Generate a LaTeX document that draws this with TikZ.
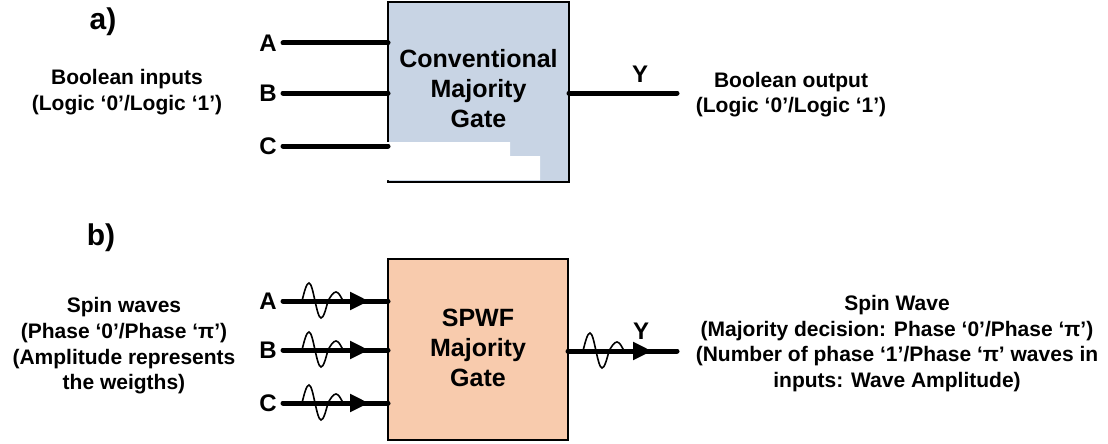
\documentclass[tikz,border=0pt]{standalone}
\usepackage{fontspec}
\setmainfont{Liberation Sans}
\usepackage{tikz}
\usetikzlibrary{arrows.meta, positioning}
\definecolor{colorConv}{RGB}{200,212,228}
\definecolor{colorSpw}{RGB}{248,203,173}
\tikzset{
  gate/.style={draw, line width=2.5pt, outer sep=0pt, minimum width=180pt, minimum height=180pt},
  gatetext/.style={align=center, font=\fontsize{25}{30}\selectfont\bfseries},
  pinlabel/.style={inner sep=0pt, font=\fontsize{24}{24}\selectfont\bfseries},
  note/.style={align=center, inner sep=0pt, font=\fontsize{21}{25.7}\selectfont\bfseries},
  caption/.style={anchor=base, inner sep=0pt, font=\fontsize{30}{30}\selectfont\bfseries},
  wire/.style={line width=5pt, line cap=round},
  tip/.style={line width=5pt, -{Triangle[length=19pt,width=17pt]}},
  spinwave/.pic={\draw[line width=1.6pt] (0,0) sin (7,-18) cos (13,0) sin (19,17) cos (26,0) sin (34,-9) cos (41,0);}
}

\begin{document}
\begin{tikzpicture}[x=1pt, y=-1pt]
\useasboundingbox (0,0) rectangle (1108,444);
% a) conventional gate
\node[caption] (capa) at (103,30) {a)};
\node[gate, fill=colorConv, minimum width=181pt] (cgate) at (478.5,92) {};
\fill[white] (386,142) -- (510,142) -- (510,156) -- (540,156) -- (540,180) -- (386,180) -- cycle;
\node[gatetext, yshift=3pt] (ctext) at (cgate) {Conventional\\Majority\\Gate};
\coordinate (cA) at (283,43);
\coordinate (cB) at (283,93);
\coordinate (cC) at (283,146);
\coordinate (cY) at (677,93);
\node[pinlabel, left=6pt of cA] (lcA) {A};
\node[pinlabel, left=6pt of cB] (lcB) {B};
\node[pinlabel, left=6pt of cC] (lcC) {C};
\draw[wire] (cA) -- (cgate.west |- cA);
\draw[wire] (cB) -- (cgate.west |- cB);
\draw[wire] (cC) -- (cgate.west |- cC);
\draw[wire] (cgate.east |- cY) -- (cY);
\node[pinlabel] (lcY) at (640,74) {Y};
\node[note] (cin) at (127,92) {Boolean inputs\\(Logic ‘0’/Logic ‘1’)};
\node[note] (cout) at (791,94.5) {Boolean output\\(Logic ‘0’/Logic ‘1’)};

% b) spin wave gate
\node[caption] (capb) at (101,245) {b)};
\node[gate, fill=colorSpw, minimum height=181pt] (sgate) at (478,349.5) {};
\node[gatetext, yshift=2pt] (stext) at (sgate) {SPWF\\Majority\\Gate};
\coordinate (sA) at (283,301);
\coordinate (sB) at (283,350);
\coordinate (sC) at (283,403);
\coordinate (sY) at (677,351);
\node[pinlabel, left=6pt of sA] (lsA) {A};
\node[pinlabel, left=6pt of sB] (lsB) {B};
\node[pinlabel, left=6pt of sC] (lsC) {C};
\foreach \s in {sA,sB,sC}{
  \draw[wire] (\s) -- (sgate.west |- \s);
  \draw[tip] (340,0 |- \s) -- (369,0 |- \s);
  \pic at (302,0 |- \s) {spinwave};
}
\draw[wire] (sgate.east |- sY) -- (sY);
\draw[tip] (630,351) -- (652,351);
\pic at (583,351) {spinwave};
\node[pinlabel] (lsY) at (641,331) {Y};
\node[note] (sin) at (124,346) {Spin waves\\(Phase ‘0’/Phase ‘π’)\\(Amplitude represents\\the weigths)};
\node[note] (sout) at (897,343.5) {Spin Wave\\(Majority decision: Phase ‘0’/Phase ‘π’)\\(Number of phase ‘1’/Phase ‘π’ waves in\\inputs: Wave Amplitude)};
\end{tikzpicture}
\end{document}
